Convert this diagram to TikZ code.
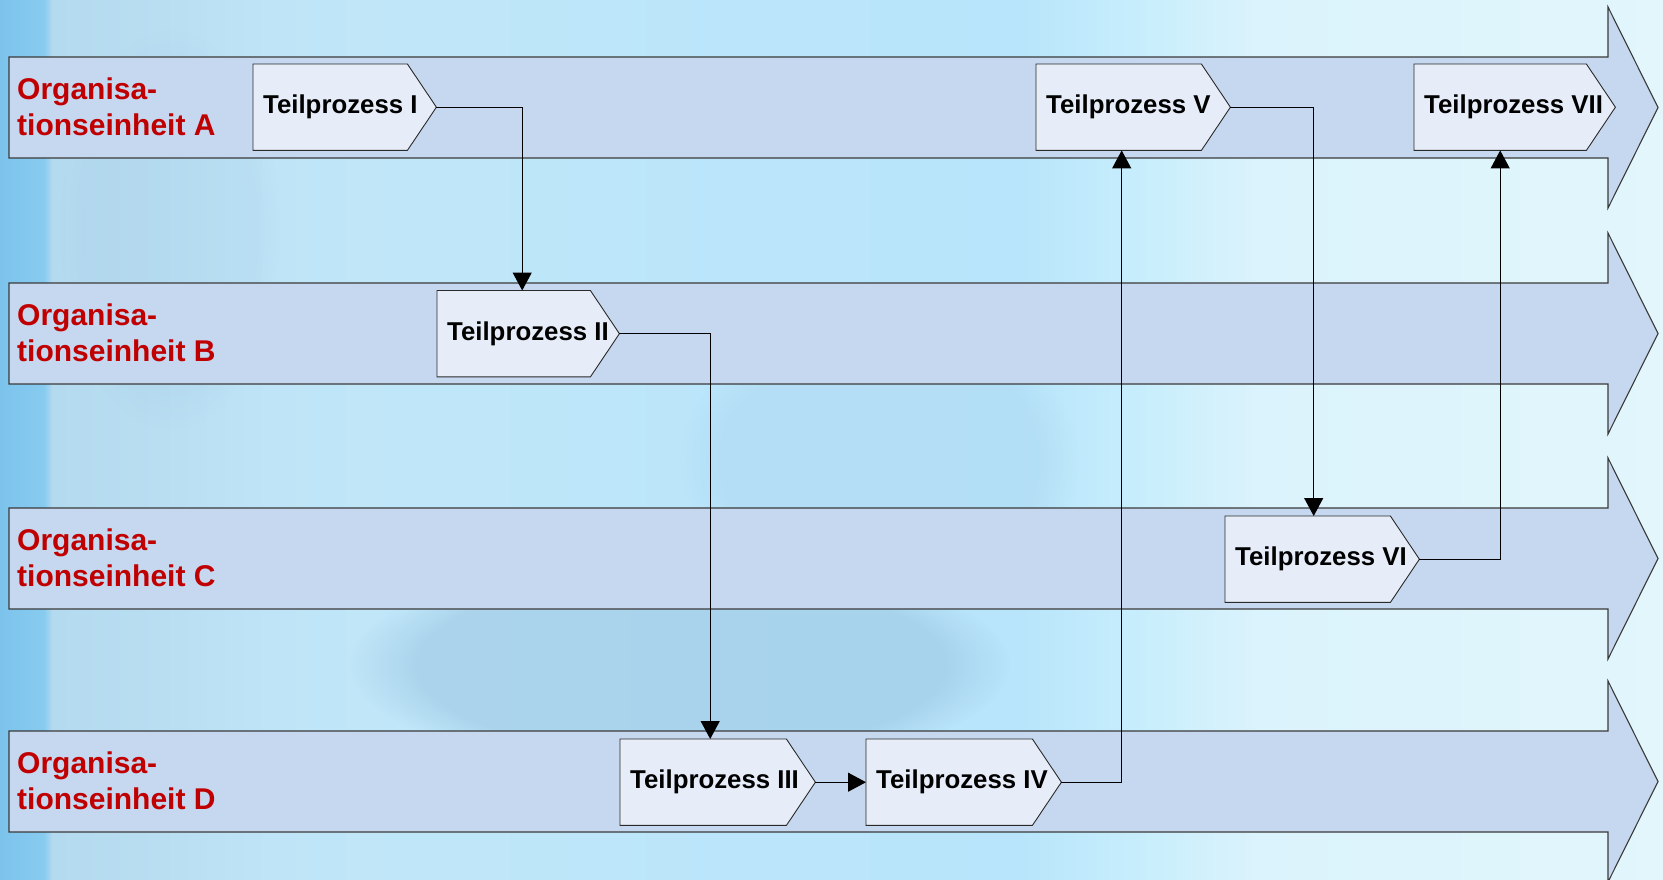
\documentclass[tikz,border=0pt]{standalone}
\usepackage{fontspec}
\setmainfont{Liberation Sans}
\usetikzlibrary{arrows.meta,fadings}
\definecolor{bandfill}{HTML}{C5D8EF}
\definecolor{boxfill}{HTML}{E6EDF8}
\definecolor{bandline}{HTML}{3A3A3A}
\definecolor{boxline}{HTML}{2A2A2A}
\definecolor{lanered}{HTML}{C00000}
\definecolor{bgA}{HTML}{7CC3EC}
\definecolor{bgB}{HTML}{88CBF0}
\definecolor{bgC}{HTML}{B4DAEF}
\definecolor{bgD}{HTML}{B9DEF2}
\definecolor{bgE}{HTML}{BFE4F7}
\definecolor{bgF}{HTML}{C0E7F9}
\definecolor{bgG}{HTML}{BBE5FA}
\definecolor{bgH}{HTML}{B8E5FB}
\definecolor{bgI}{HTML}{C6EDFC}
\definecolor{bgJ}{HTML}{DBF3FC}
\definecolor{bgK}{HTML}{E2F6FC}
\definecolor{bgpatch}{HTML}{98C2E0}
\tikzset{
  x=1pt, y=-1pt,
  laneshape/.style={fill=bandfill, draw=bandline, line width=1.1pt, line join=miter},
  boxshape/.style={fill=boxfill, draw=boxline, line width=0.9pt},
  boxarea/.style={draw=none, inner sep=0pt, minimum height=86pt, anchor=north west},
  boxtext/.style={anchor=west, inner sep=0pt, font=\fontsize{25.8}{30}\selectfont\bfseries, text=black},
  lanetext/.style={anchor=west, inner sep=0pt, align=left, font=\fontsize{30}{36}\selectfont\bfseries, text=lanered},
  conn/.style={draw=black, line width=1.2pt, -{Triangle[length=18pt,width=19pt]}},
}
\newcommand\bgstrip[4]{\shade[left color=#3, right color=#4] (#1,0) rectangle (#2+0.6,879);}
\newcommand\lanearrow[1]{%
  \filldraw[laneshape] (9,#1) -- (1608,#1) -- (1608,#1-50) -- (1658,#1+50.5)
    -- (1608,#1+151) -- (1608,#1+101) -- (9,#1+101) -- cycle;}
\newcommand\procbox[5]{% name, left, top, flat width, label
  \node[boxarea, minimum width=#4 pt] (#1) at (#2,#3) {};
  \filldraw[boxshape] (#1.north west) -- (#1.north east) -- ([xshift=29pt]#1.east)
    -- (#1.south east) -- (#1.south west) -- cycle;
  \node[boxtext] (#1-t) at ([xshift=10pt]#1.west) {#5};
  \coordinate (#1-tip) at ([xshift=29pt]#1.east);}
\begin{document}
\begin{tikzpicture}
\useasboundingbox (0,0) rectangle (1663,879);
\begin{scope}
\clip (0,0) rectangle (1663,879);
% background
\bgstrip{0}{44}{bgA}{bgB}
\bgstrip{44}{52}{bgB}{bgC}
\bgstrip{52}{160}{bgC}{bgD}
\bgstrip{160}{270}{bgD}{bgE}
\bgstrip{270}{420}{bgE}{bgF}
\bgstrip{420}{720}{bgF}{bgG}
\bgstrip{720}{1020}{bgG}{bgH}
\bgstrip{1020}{1130}{bgH}{bgI}
\bgstrip{1130}{1260}{bgI}{bgJ}
\bgstrip{1260}{1663}{bgJ}{bgK}
\fill[bgpatch, opacity=0.5, path fading=circle with fuzzy edge 20 percent] (680,665) ellipse (330 and 110);
\fill[bgpatch, opacity=0.18, path fading=circle with fuzzy edge 20 percent] (880,460) ellipse (200 and 140);
\fill[bgpatch, opacity=0.12, path fading=circle with fuzzy edge 20 percent] (170,230) ellipse (110 and 200);
% lanes
\lanearrow{57}
\lanearrow{283}
\lanearrow{508}
\lanearrow{731}
\end{scope}
% lane labels
\node[lanetext] (la) at (17,106.5) {Organisa-\\tionseinheit A};
\node[lanetext] (lb) at (17,332.5) {Organisa-\\tionseinheit B};
\node[lanetext] (lc) at (17,557.5) {Organisa-\\tionseinheit C};
\node[lanetext] (ld) at (17,780.5) {Organisa-\\tionseinheit D};
% process boxes
\procbox{P1}{253}{64}{154}{Teilprozess I}
\procbox{P2}{437}{290.5}{153}{Teilprozess II}
\procbox{P3}{620}{739}{166}{Teilprozess III}
\procbox{P4}{866}{739}{166}{Teilprozess IV}
\procbox{P5}{1036}{64}{165}{Teilprozess V}
\procbox{P6}{1225}{516}{165}{Teilprozess VI}
\procbox{P7}{1414}{64}{172}{Teilprozess VII}
% connectors
\draw[conn] (P1-tip) -| ([xshift=8.5pt]P2.north);
\draw[conn] (P2-tip) -| ([xshift=7pt]P3.north);
\draw[conn] (P3-tip) -- (P4.west);
\draw[conn] (P4-tip) -| ([xshift=3pt]P5.south);
\draw[conn] (P5-tip) -| ([xshift=6pt]P6.north);
\draw[conn] (P6-tip) -| (P7.south);
\end{tikzpicture}
\end{document}
